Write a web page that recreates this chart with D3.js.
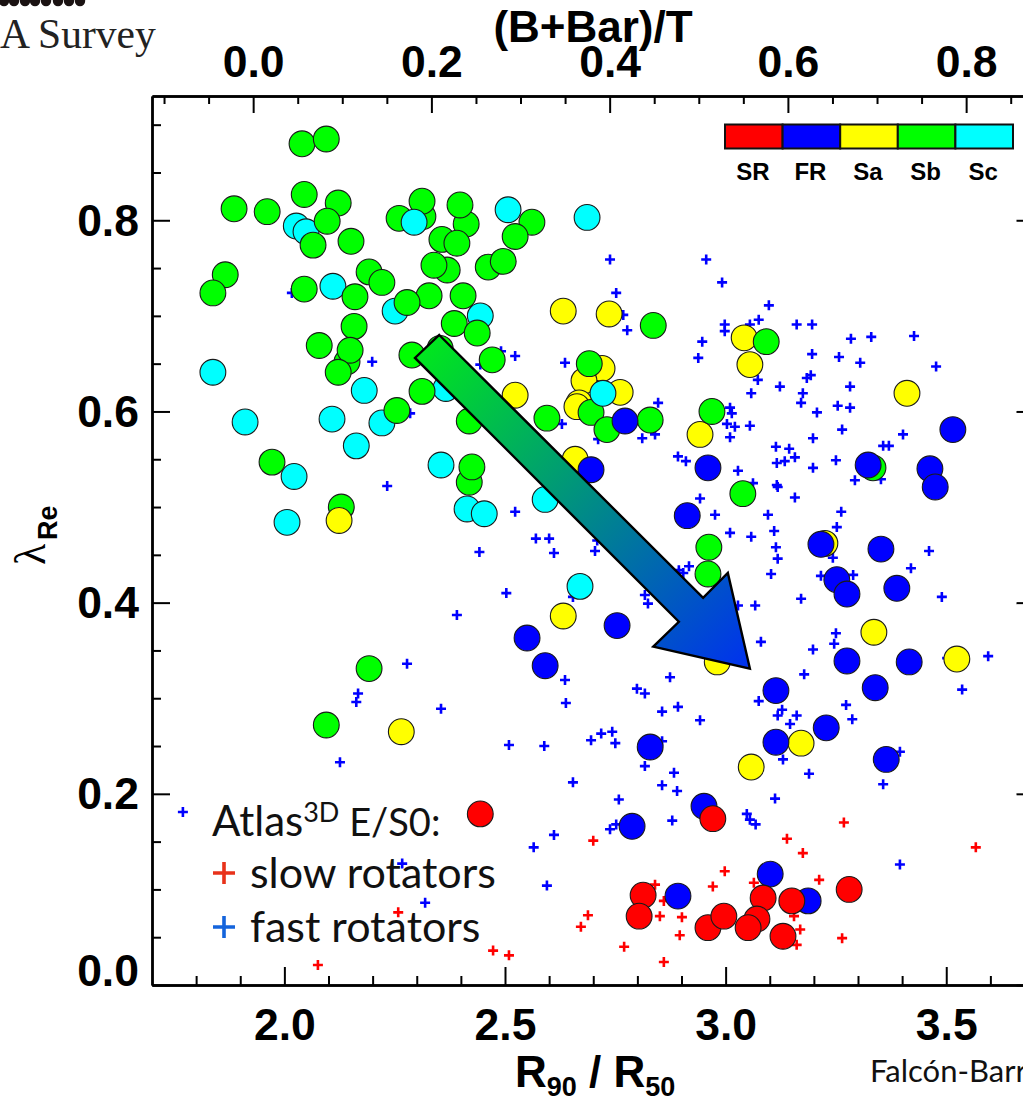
<!DOCTYPE html>
<html>
<head>
<meta charset="utf-8">
<script src="https://cdn.jsdelivr.net/npm/d3@7"></script>
<style>
  html, body { margin: 0; padding: 0; background: #fff; overflow: hidden; }
  svg { display: block; }
  .tick-label { font: bold 44.5px 'Liberation Sans', Arial, sans-serif; fill: #000; }
  .title { font: bold 44px 'Liberation Sans', Arial, sans-serif; fill: #000; }
  .note { font-family: Lato, sans-serif; fill: #111; }
</style>
</head>
<body>
<svg id="chart" width="1023" height="1099"></svg>
<script>
// values are [R90/R50, lambda_Re]
const fastRotators = [
  [2.017,.724],[2.199,.652],[2.491,.663],[2.523,.658],[2.444,.649],[2.738,.759],[2.956,.759],[2.992,.735],
  [2.752,.724],[3.098,.711],[2.768,.701],[2.777,.685],[2.998,.691],[2.998,.684],[3.055,.691],[3.075,.696],
  [3.161,.691],[3.196,.691],[2.947,.673],[3.284,.676],[3.330,.678],[3.427,.679],[2.938,.656],[3.196,.660],
  [3.257,.657],[3.305,.651],[3.477,.647],[2.636,.651],[3.073,.633],[3.123,.626],[3.184,.635],[3.193,.638],
  [3.282,.626],[3.058,.619],[3.175,.619],[2.847,.609],[3.171,.609],[3.207,.599],[3.254,.606],[3.282,.604],
  [3.010,.604],[3.014,.598],[3.003,.587],[3.021,.584],[3.055,.585],[3.010,.573],[2.629,.587],[2.811,.572],
  [2.840,.576],[2.711,.571],[3.264,.581],[3.198,.572],[3.402,.576],[3.114,.563],[3.144,.561],[3.157,.552],
  [3.116,.546],[3.134,.548],[3.357,.564],[3.370,.564],[3.250,.549],[3.198,.541],[2.892,.553],[2.910,.548],
  [3.028,.538],[3.293,.528],[3.352,.529],[3.062,.525],[3.116,.523],[3.118,.521],[3.157,.510],[2.942,.509],
  [3.262,.495],[2.523,.495],[2.976,.492],[3.096,.492],[3.252,.479],[3.110,.475],[3.010,.473],[3.058,.469],
  [2.570,.467],[2.600,.467],[3.114,.458],[3.461,.454],[2.611,.452],[2.704,.454],[2.709,.465],[3.243,.447],
  [3.118,.446],[3.420,.436],[2.917,.438],[2.894,.434],[2.904,.431],[3.103,.430],[3.216,.428],[3.289,.429],
  [3.171,.404],[3.490,.406],[2.817,.408],[2.824,.399],[2.654,.406],[3.067,.397],[3.028,.397],[3.250,.368],
  [3.246,.357],[3.198,.351],[3.080,.359],[3.595,.344],[3.502,.342],[3.178,.325],[2.874,.322],[2.799,.310],
  [2.817,.305],[3.536,.309],[2.636,.319],[2.638,.295],[3.075,.297],[2.856,.286],[2.892,.291],[3.273,.293],
  [3.128,.288],[3.118,.282],[3.161,.282],[3.146,.273],[3.287,.278],[2.942,.277],[2.743,.265],[2.718,.263],
  [2.695,.256],[2.750,.253],[2.589,.250],[2.856,.255],[2.233,.522],[2.442,.453],[2.503,.410],
  [2.391,.387],[2.278,.336],[2.167,.305],[2.163,.296],[2.355,.289],[2.509,.251],[2.285,.598],[2.126,.233],
  [1.770,.181],[2.267,.127],[2.319,.086],[3.130,.236],[2.817,.229],[2.883,.222],[3.189,.221],[2.654,.212],
  [2.856,.209],[2.890,.203],[3.357,.210],[3.395,.244],[2.758,.194],[3.112,.195],[3.048,.179],[3.055,.173],
  [3.068,.168],[2.879,.172],[2.752,.168],[2.738,.163],[2.611,.157],[2.565,.144],[3.395,.126],[2.595,.104]
];
const slowRotators = [
  [2.076,.021],[2.258,.076],[2.473,.036],[2.509,.031],[2.700,.151],[3.268,.170],[3.139,.153],[3.175,.138],
  [3.567,.144],[2.998,.119],[3.212,.110],[3.064,.107],[2.840,.105],[2.971,.103],[2.860,.088],[2.688,.073],
  [2.672,.061],[2.851,.072],[2.901,.071],[3.155,.072],[3.169,.058],[3.264,.049],[3.161,.042],[2.896,.052],
  [2.770,.040],[2.860,.024]
];
const scGalaxies = [
  [2.027,.794],[2.049,.788],[2.110,.731],[2.251,.705],[2.444,.700],[2.507,.811],[2.686,.803],[1.838,.641],
  [2.181,.622],[2.366,.624],[1.911,.589],[2.108,.592],[2.221,.588],[2.163,.564],[2.355,.544],[2.006,.484],
  [2.414,.498],[2.453,.493],[2.591,.508],[2.670,.417],[2.022,.532]
];
const saGalaxies = [
  [2.632,.705],[2.736,.702],[3.042,.677],[3.055,.649],[3.411,.619],[2.720,.645],[2.679,.632],[2.761,.620],
  [2.668,.609],[2.523,.617],[2.663,.605],[2.942,.576],[2.659,.550],[3.225,.462],[2.632,.386],[2.981,.338],
  [3.336,.369],[3.524,.341],[3.171,.253],[3.058,.228],[2.265,.265]
];
const sbGalaxies = [
  [2.040,.880],[2.095,.885],[2.045,.827],[2.122,.818],[1.886,.812],[1.961,.809],[2.097,.799],[2.260,.802],
  [2.314,.804],[2.312,.820],[2.412,.796],[2.398,.816],[2.357,.780],[2.391,.776],[2.065,.774],[2.151,.778],
  [2.561,.798],[2.523,.783],[2.462,.751],[2.496,.757],[2.369,.748],[2.339,.753],[1.866,.743],[1.838,.724],
  [2.045,.728],[2.192,.746],[2.221,.735],[2.160,.720],[2.328,.721],[2.278,.714],[2.405,.721],[2.385,.692],
  [2.437,.682],[2.158,.689],[2.079,.669],[2.142,.652],[2.149,.664],[2.122,.641],[2.289,.659],[2.353,.666],
  [2.471,.654],[2.312,.621],[2.255,.601],[2.836,.690],[3.092,.673],[2.691,.650],[2.595,.593],[2.695,.599],
  [2.731,.581],[2.829,.591],[2.969,.600],[3.039,.514],[2.962,.458],[2.960,.430],[3.334,.541],[1.972,.547],
  [2.129,.500],[2.419,.526],[2.425,.542],[2.419,.590],[2.192,.331],[2.095,.272]
];
// these few sit on top of the others in the figure
const saOnTop = [[2.124,.486]];
const scOnTop = [[2.294,.798],[2.722,.619]];
const frGalaxies = [
  [2.772,.590],[3.515,.581],[3.323,.544],[3.463,.540],[3.475,.521],[2.695,.539],[2.960,.541],[2.913,.491],
  [3.216,.461],[3.352,.456],[3.252,.424],[3.275,.409],[3.388,.415],[2.754,.376],[2.550,.363],[2.591,.334],
  [3.275,.339],[3.416,.338],[3.114,.308],[3.339,.311],[3.228,.269],[3.114,.254],[2.829,.249],[3.364,.236],
  [2.951,.187],[2.788,.166],[3.101,.116],[2.892,.093],[3.187,.088]
];
const srGalaxies = [
  [2.444,.179],[2.971,.174],[3.280,.100],[2.813,.094],[2.804,.072],[2.960,.060],[2.996,.072],[3.085,.091],
  [3.150,.088],[3.071,.069],[3.051,.060],[3.130,.051]
];
const arrowShape = [
  [2.351,.680],[2.949,.405],[3.005,.431],[3.055,.331],[2.836,.354],[2.894,.380],[2.296,.656]
];

const bulgeFractionTicks = [0, 0.2, 0.4, 0.6, 0.8];
const bulgeFractionMinor = [-0.1, -0.05, 0.05, 0.1, 0.15, 0.25, 0.3, 0.35, 0.45, 0.5, 0.55, 0.65, 0.7, 0.75, 0.85];
const concentrationTicks = [2, 2.5, 3, 3.5];
const concentrationMinor = [1.8, 1.9, 2.1, 2.2, 2.3, 2.4, 2.6, 2.7, 2.8, 2.9, 3.1, 3.2, 3.3, 3.4, 3.6];
const lambdaTicks = [0, 0.2, 0.4, 0.6, 0.8];
const lambdaMinor = [0.05, 0.1, 0.15, 0.25, 0.3, 0.35, 0.45, 0.5, 0.55, 0.65, 0.7, 0.75, 0.85, 0.9];

const typeNames = ['SR', 'FR', 'Sa', 'Sb', 'Sc'];
const typeColors = ['#ff0000', '#0000ff', '#ffff00', '#00ff00', '#00ffff'];
const clippedDots = [4, 14, 25, 35, 46, 58, 69, 80];

const PLOT = { left: 152, right: 1034.5, top: 96, bottom: 985 };

const svg = d3.select('#chart');

const x = d3.scaleLinear().domain([1.7, 3.7]).range([PLOT.left, PLOT.right]);
const xTop = d3.scaleLinear().domain([-0.1135, 0.8767]).range([PLOT.left, PLOT.right]);
const y = d3.scaleLinear().domain([0, 0.93]).range([PLOT.bottom, PLOT.top]);

const fmt = (d) => d.toFixed(1);

// outside scraps of the slide: the cropped text around the figure
svg
  .selectAll('.dot-row')
  .data(clippedDots)
  .enter()
  .append('circle')
  .attr('class', 'dot-row')
  .attr('cx', (d) => d)
  .attr('cy', 1)
  .attr('r', 5.2)
  .attr('fill', '#1a1212');

svg
  .append('text')
  .attr('x', 0)
  .attr('y', 48)
  .style('font', "41.5px 'Liberation Serif', serif")
  .attr('fill', '#222')
  .text('A Survey');

svg
  .append('text')
  .attr('class', 'note')
  .attr('x', 870)
  .attr('y', 1082)
  .style('font-size', '31px')
  .text('Falcón-Barr');

// points
const drawPlus = (group, data, color) => {
  group
    .selectAll(null)
    .data(data)
    .enter()
    .append('path')
    .attr('d', 'M-5,0H5M0,-5V5')
    .attr('transform', (d) => `translate(${x(d[0])},${y(d[1])})`)
    .attr('stroke', color)
    .attr('stroke-width', 2.6)
    .attr('fill', 'none');
};

const drawDiscs = (group, data, color) => {
  group
    .selectAll(null)
    .data(data)
    .enter()
    .append('circle')
    .attr('cx', (d) => x(d[0]))
    .attr('cy', (d) => y(d[1]))
    .attr('r', 12.9)
    .attr('fill', color)
    .attr('stroke', '#1a1a1a')
    .attr('stroke-width', 1.1);
};

const marks = svg.append('g');
drawPlus(marks, fastRotators, '#0000ff');
drawPlus(marks, slowRotators, '#ff0000');
drawDiscs(marks, scGalaxies, typeColors[4]);
drawDiscs(marks, saGalaxies, typeColors[2]);
drawDiscs(marks, sbGalaxies, typeColors[3]);
drawDiscs(marks, saOnTop, typeColors[2]);
drawDiscs(marks, scOnTop, typeColors[4]);
drawDiscs(marks, frGalaxies, typeColors[1]);
drawDiscs(marks, srGalaxies, typeColors[0]);

// big arrow
const arrowGradient = svg
  .append('defs')
  .append('linearGradient')
  .attr('id', 'arrow-fill')
  .attr('gradientUnits', 'userSpaceOnUse')
  .attr('x1', x(2.323))
  .attr('y1', y(0.668))
  .attr('x2', x(3.055))
  .attr('y2', y(0.331));
arrowGradient.append('stop').attr('offset', '0%').attr('stop-color', '#00e61e');
arrowGradient.append('stop').attr('offset', '100%').attr('stop-color', '#0030f0');

svg
  .append('path')
  .attr('d', d3.line().x((d) => x(d[0])).y((d) => y(d[1])).curve(d3.curveLinearClosed)(arrowShape))
  .attr('fill', 'url(#arrow-fill)')
  .attr('stroke', '#000')
  .attr('stroke-width', 2.4)
  .attr('stroke-linejoin', 'miter');

// axes, major and minor ticks are two calls of the same axis
const styleAxis = (g) => {
  g.selectAll('path.domain').attr('stroke', '#000').attr('stroke-width', 2.4);
  g.selectAll('.tick line').attr('stroke', '#000').attr('stroke-width', 2);
  g.attr('font-family', null).attr('font-size', null);
  g.selectAll('text').attr('class', 'tick-label').attr('dy', null);
};

const bottomAxis = svg.append('g').attr('transform', `translate(0,${PLOT.bottom})`);
bottomAxis.call(d3.axisBottom(x).tickValues(concentrationTicks).tickFormat(fmt).tickSizeInner(-18).tickSizeOuter(0));
styleAxis(bottomAxis);
bottomAxis.selectAll('text').attr('y', 55);
const bottomMinor = svg.append('g').attr('transform', `translate(0,${PLOT.bottom})`);
bottomMinor.call(d3.axisBottom(x).tickValues(concentrationMinor).tickFormat('').tickSizeInner(-9).tickSizeOuter(0));
styleAxis(bottomMinor);

const topAxis = svg.append('g').attr('transform', `translate(0,${PLOT.top})`);
topAxis.call(d3.axisTop(xTop).tickValues(bulgeFractionTicks).tickFormat(fmt).tickSizeInner(-17).tickSizeOuter(0));
styleAxis(topAxis);
topAxis.selectAll('text').attr('y', -19);
const topMinor = svg.append('g').attr('transform', `translate(0,${PLOT.top})`);
topMinor.call(d3.axisTop(xTop).tickValues(bulgeFractionMinor).tickFormat('').tickSizeInner(-8).tickSizeOuter(0));
styleAxis(topMinor);

const leftAxis = svg.append('g').attr('transform', `translate(${PLOT.left},0)`);
leftAxis.call(d3.axisLeft(y).tickValues(lambdaTicks).tickFormat(fmt).tickSizeInner(-18).tickSizeOuter(0));
styleAxis(leftAxis);
leftAxis.selectAll('text').attr('x', -13).attr('y', (d) => (d === 0 ? 0 : 15));
const leftMinor = svg.append('g').attr('transform', `translate(${PLOT.left},0)`);
leftMinor.call(d3.axisLeft(y).tickValues(lambdaMinor).tickFormat('').tickSizeInner(-9).tickSizeOuter(0));
styleAxis(leftMinor);

// right side runs off the page, only the big ticks poke in
const rightAxis = svg.append('g').attr('transform', `translate(${PLOT.right},0)`);
rightAxis.call(d3.axisRight(y).tickValues(lambdaTicks).tickFormat('').tickSizeInner(-18).tickSizeOuter(0));
styleAxis(rightAxis);

// axis titles
svg
  .append('text')
  .attr('class', 'title')
  .attr('x', 593)
  .attr('y', 42)
  .attr('text-anchor', 'middle')
  .text('(B+Bar)/T');

const xTitle = svg.append('text').attr('class', 'title').attr('x', 515).attr('y', 1087);
xTitle.append('tspan').text('R');
xTitle.append('tspan').attr('dy', 9).style('font-size', '27px').text('90');
xTitle.append('tspan').attr('dy', -9).text(' / R');
xTitle.append('tspan').attr('dy', 9).style('font-size', '27px').text('50');

svg
  .append('text')
  .attr('transform', 'translate(45,565) rotate(-90)')
  .style('font', "44px 'Liberation Serif', serif")
  .text('λ');
svg
  .append('text')
  .attr('transform', 'translate(57,540) rotate(-90)')
  .style('font', "bold 27px 'Liberation Sans', sans-serif")
  .text('Re');

// colour key
const keyBand = d3.scaleBand().domain(typeNames).range([725, 1013]);
const key = svg.append('g');
key
  .selectAll('rect')
  .data(typeNames)
  .enter()
  .append('rect')
  .attr('x', (d) => keyBand(d))
  .attr('y', 124.5)
  .attr('width', keyBand.bandwidth())
  .attr('height', 24)
  .attr('fill', (d, i) => typeColors[i])
  .attr('stroke', '#111')
  .attr('stroke-width', 2);
key
  .selectAll('text')
  .data(typeNames)
  .enter()
  .append('text')
  .attr('x', (d) => keyBand(d) + keyBand.bandwidth() / 2 - 1)
  .attr('y', 180)
  .attr('text-anchor', 'middle')
  .style('font', "bold 24px 'Liberation Sans', sans-serif")
  .attr('fill', '#000')
  .text((d) => d);

// Atlas note in the lower left
const note = svg.append('text').attr('class', 'note').attr('x', 212).attr('y', 836).style('font-size', '42px');
note.append('tspan').text('Atlas');
note.append('tspan').attr('dy', -14).style('font-size', '27px').text('3D');
note.append('tspan').attr('dy', 14).style('font-size', '38px').text(' E/S0:');

const noteRows = [
  { label: 'slow rotators', color: '#e8321a' },
  { label: 'fast rotators', color: '#1464dc' },
];
const rowY = d3.scalePoint().domain(noteRows.map((r) => r.label)).range([888, 942]);
noteRows.forEach((r) => {
  svg
    .append('text')
    .attr('class', 'note')
    .attr('x', 250)
    .attr('y', rowY(r.label))
    .style('font-size', '43px')
    .text(r.label);
  svg
    .append('path')
    .attr('d', 'M-11,0H11M0,-11V11')
    .attr('transform', `translate(224,${rowY(r.label) - 15})`)
    .attr('stroke', r.color)
    .attr('stroke-width', 3.6)
    .attr('fill', 'none');
});
</script>
</body>
</html>
